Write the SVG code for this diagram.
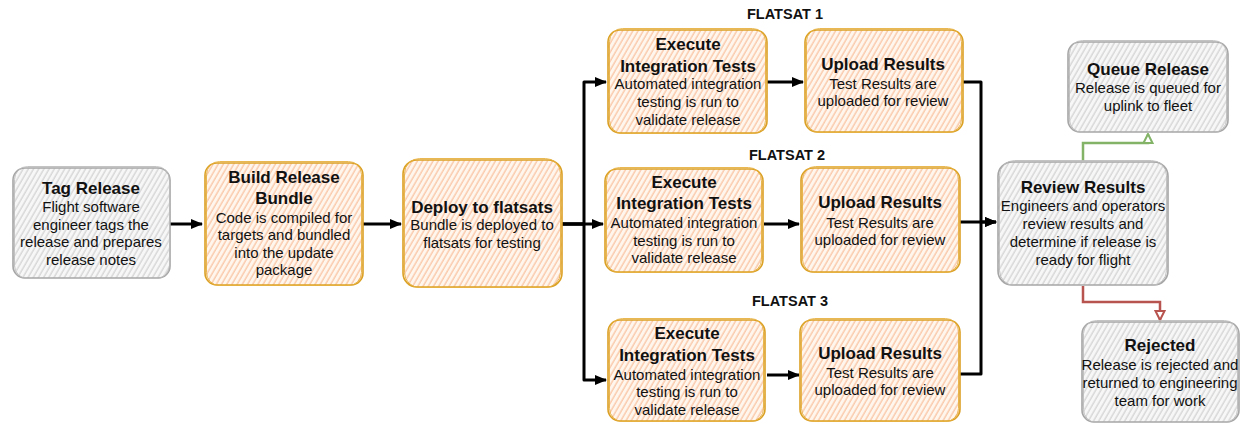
<svg xmlns="http://www.w3.org/2000/svg" width="1241" height="424" viewBox="0 0 1241 424">
<style>
text{font-family:"Liberation Sans",Arial,sans-serif;fill:#111;text-anchor:middle}
.t{font-size:17px;font-weight:bold}
.b{font-size:15px}
.lbl{font-size:14.5px;font-weight:bold}
.or{fill:url(#hOr);stroke:#dba125;stroke-width:1.6}
.or2{fill:none;stroke:#e6b040;stroke-width:0.9}
.gr{fill:url(#hGr);stroke:#a6a6a6;stroke-width:1.6}
.gr2{fill:none;stroke:#bcbcbc;stroke-width:0.9}
.c{fill:none;stroke:#000;stroke-width:3;stroke-linejoin:round}
.g{fill:none;stroke:#82b366;stroke-width:2.5}
.r{fill:none;stroke:#b85450;stroke-width:2.5}
</style>
<defs>
<pattern id="hOr" patternUnits="userSpaceOnUse" width="4.5" height="10" patternTransform="rotate(30)">
<rect width="4.5" height="10" fill="#fff6ee"/>
<line x1="1" y1="0" x2="1" y2="10" stroke="#f8b58c" stroke-width="1"/>
</pattern>
<pattern id="hGr" patternUnits="userSpaceOnUse" width="4.5" height="10" patternTransform="rotate(30)">
<rect width="4.5" height="10" fill="#f7f7f7"/>
<line x1="1" y1="0" x2="1" y2="10" stroke="#c9c9c9" stroke-width="1"/>
</pattern>
<marker id="ab" markerUnits="userSpaceOnUse" markerWidth="14" markerHeight="12" refX="11" refY="6" orient="auto">
<path d="M0,1 L12,6 L0,11 Z" fill="#000"/>
</marker>
<marker id="ag" markerUnits="userSpaceOnUse" markerWidth="14" markerHeight="12" refX="10" refY="6" orient="auto">
<path d="M1,1.5 L10,6 L1,10.5 Z" fill="#fff" stroke="#82b366" stroke-width="2"/>
</marker>
<marker id="ar" markerUnits="userSpaceOnUse" markerWidth="14" markerHeight="12" refX="10" refY="6" orient="auto">
<path d="M1,1.5 L10,6 L1,10.5 Z" fill="#fff" stroke="#b85450" stroke-width="2"/>
</marker>
</defs>
<rect width="1241" height="424" fill="#fff"/>

<g id="labels">
<text class="lbl" x="785" y="19">FLATSAT 1</text>
<text class="lbl" x="787" y="160">FLATSAT 2</text>
<text class="lbl" x="790" y="306">FLATSAT 3</text>
</g>

<g id="connectors">
<path class="c" d="M170,224 L202,224" marker-end="url(#ab)"/>
<path class="c" d="M363,224 L401,224" marker-end="url(#ab)"/>
<path class="c" d="M562,224 H584 V82 H606" marker-end="url(#ab)"/>
<path class="c" d="M562,224 H603" marker-end="url(#ab)"/>
<path class="c" d="M562,224 H584 V380 H606" marker-end="url(#ab)"/>
<path class="c" d="M767,82 H803" marker-end="url(#ab)"/>
<path class="c" d="M764,224 H799" marker-end="url(#ab)"/>
<path class="c" d="M767,375 H799" marker-end="url(#ab)"/>
<path class="c" d="M963,82 H981 V222 H996" marker-end="url(#ab)"/>
<path class="c" d="M960,222 H996" marker-end="url(#ab)"/>
<path class="c" d="M960,374 H981 V222"/>
<path class="g" d="M1083,161 V143 H1148 V134" marker-end="url(#ag)"/>
<path class="r" d="M1083,286 V302 H1160 V320" marker-end="url(#ar)"/>
</g>

<g id="tag-release">
<rect class="gr" x="13" y="168" width="157" height="110" rx="12"/>
<rect class="gr2" x="14.5" y="166.5" width="155" height="112" rx="13"/>
<text class="t" x="91" y="194">Tag Release</text>
<text class="b" x="91" y="212">Flight software</text>
<text class="b" x="91" y="229.5">engineer tags the</text>
<text class="b" x="91" y="247">release and prepares</text>
<text class="b" x="91" y="264.5">release notes</text>
</g>

<g id="build-release-bundle">
<rect class="or" x="205" y="163" width="158" height="122" rx="12"/>
<rect class="or2" x="206.5" y="161.5" width="155" height="124" rx="13"/>
<text class="t" x="284" y="183">Build Release</text>
<text class="t" x="284" y="204">Bundle</text>
<text class="b" x="284" y="222.5">Code is compiled for</text>
<text class="b" x="284" y="240">targets and bundled</text>
<text class="b" x="284" y="257.5">into the update</text>
<text class="b" x="284" y="275">package</text>
</g>

<g id="deploy">
<rect class="or" x="403" y="160" width="159" height="127" rx="14"/>
<rect class="or2" x="404.5" y="158.5" width="156" height="129" rx="15"/>
<text class="t" x="482" y="213">Deploy to flatsats</text>
<text class="b" x="482" y="230">Bundle is deployed to</text>
<text class="b" x="482" y="247.5">flatsats for testing</text>
</g>

<g id="execute-1">
<rect class="or" x="608" y="30" width="159" height="103" rx="12"/>
<rect class="or2" x="609.5" y="28.5" width="156" height="105" rx="13"/>
<text class="t" x="688" y="50">Execute</text>
<text class="t" x="688" y="72">Integration Tests</text>
<text class="b" x="688" y="89">Automated integration</text>
<text class="b" x="688" y="107">testing is run to</text>
<text class="b" x="688" y="124.5">validate release</text>
</g>

<g id="upload-1">
<rect class="or" x="805" y="30" width="158" height="102" rx="12"/>
<rect class="or2" x="806.5" y="28.5" width="155" height="104" rx="13"/>
<text class="t" x="883" y="70">Upload Results</text>
<text class="b" x="883" y="88.5">Test Results are</text>
<text class="b" x="883" y="106">uploaded for review</text>
</g>

<g id="execute-2">
<rect class="or" x="605" y="169" width="158" height="103" rx="12"/>
<rect class="or2" x="606.5" y="167.5" width="155" height="105" rx="13"/>
<text class="t" x="684" y="188">Execute</text>
<text class="t" x="684" y="209">Integration Tests</text>
<text class="b" x="684" y="227.5">Automated integration</text>
<text class="b" x="684" y="245.5">testing is run to</text>
<text class="b" x="684" y="263">validate release</text>
</g>

<g id="upload-2">
<rect class="or" x="801" y="168" width="159" height="104" rx="12"/>
<rect class="or2" x="802.5" y="166.5" width="156" height="106" rx="13"/>
<text class="t" x="880" y="208">Upload Results</text>
<text class="b" x="880" y="227.5">Test Results are</text>
<text class="b" x="880" y="245">uploaded for review</text>
</g>

<g id="execute-3">
<rect class="or" x="608" y="320" width="157" height="101" rx="12"/>
<rect class="or2" x="609.5" y="318.5" width="154" height="103" rx="13"/>
<text class="t" x="687" y="339">Execute</text>
<text class="t" x="687" y="361">Integration Tests</text>
<text class="b" x="687" y="379.5">Automated integration</text>
<text class="b" x="687" y="397">testing is run to</text>
<text class="b" x="687" y="414.5">validate release</text>
</g>

<g id="upload-3">
<rect class="or" x="800" y="320" width="160" height="101" rx="12"/>
<rect class="or2" x="801.5" y="318.5" width="157" height="103" rx="13"/>
<text class="t" x="880" y="359">Upload Results</text>
<text class="b" x="880" y="377.5">Test Results are</text>
<text class="b" x="880" y="395">uploaded for review</text>
</g>

<g id="review-results">
<rect class="gr" x="998" y="162" width="170" height="123" rx="14"/>
<rect class="gr2" x="999.5" y="160.5" width="167" height="125" rx="15"/>
<text class="t" x="1083" y="193">Review Results</text>
<text class="b" x="1083" y="210.5">Engineers and operators</text>
<text class="b" x="1083" y="228.5">review results and</text>
<text class="b" x="1083" y="247">determine if release is</text>
<text class="b" x="1083" y="264.5">ready for flight</text>
</g>

<g id="queue-release">
<rect class="gr" x="1068" y="42" width="160" height="90" rx="12"/>
<rect class="gr2" x="1069.5" y="40.5" width="157" height="92" rx="13"/>
<text class="t" x="1148" y="75">Queue Release</text>
<text class="b" x="1148" y="92.5">Release is queued for</text>
<text class="b" x="1148" y="111">uplink to fleet</text>
</g>

<g id="rejected">
<rect class="gr" x="1082" y="322" width="157" height="100" rx="12"/>
<rect class="gr2" x="1083.5" y="320.5" width="154" height="102" rx="13"/>
<text class="t" x="1160" y="351">Rejected</text>
<text class="b" x="1160" y="369.5">Release is rejected and</text>
<text class="b" x="1160" y="387.5">returned to engineering</text>
<text class="b" x="1160" y="405.5">team for work</text>
</g>
</svg>
